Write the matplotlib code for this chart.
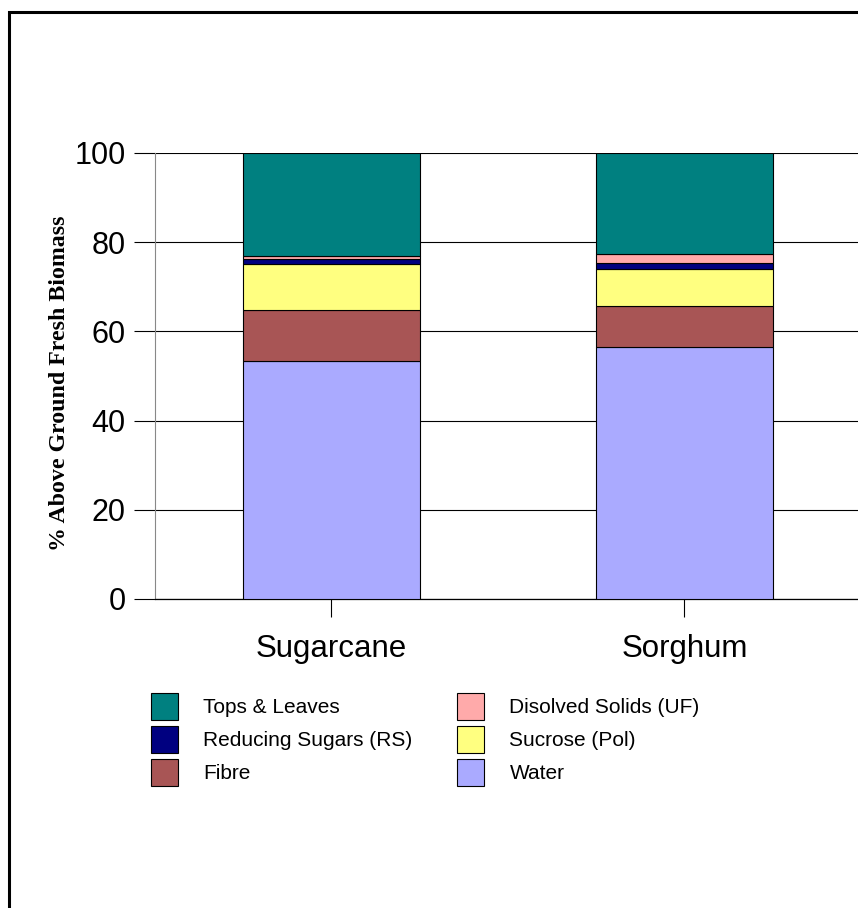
import numpy as np
import matplotlib.pyplot as plt
from matplotlib.patches import Rectangle

plt.rcParams['font.family'] = ['Liberation Sans', 'DejaVu Sans']

crops = ['Sugarcane', 'Sorghum']
# stacked from the bottom up
water = [53.3, 56.4]
fibre = [11.5, 9.3]
sucrose = [10.2, 8.3]
reducing = [1.2, 1.3]
dissolved = [0.8, 2.0]
tops = [23.0, 22.7]

names = ['Water', 'Fibre', 'Sucrose (Pol)', 'Reducing Sugars (RS)',
         'Disolved Solids (UF)', 'Tops & Leaves']
colors = ['#AAAAFF', '#A85555', '#FFFF80', '#000080', '#FFAAAA', '#008080']
yticks = [0, 20, 40, 60, 80, 100]

fig = plt.figure(figsize=(8.58, 9.08), dpi=100)
ax = fig.add_axes([155/858, 1 - 599/908, 703/858, 446/908])

x = np.arange(len(crops))
bottom = np.zeros(len(crops))
bars = {}
for name, vals, c in zip(names, [water, fibre, sucrose, reducing, dissolved, tops], colors):
    bars[name] = ax.bar(x, vals, 0.5, bottom=bottom, color=c, edgecolor='black',
                        linewidth=0.8, zorder=3)
    bottom += np.array(vals)

ax.set_xlim(-0.5, 1.492)
ax.set_ylim(0, 100)
ax.set_yticks(yticks)
ax.set_xticks(x)
ax.set_xticklabels(crops, fontsize=22.5)
ax.tick_params(axis='y', labelsize=22, length=15, width=0.8, pad=6)
ax.tick_params(axis='x', length=13, width=0.8, pad=12)
ax.yaxis.grid(True, color='black', linewidth=0.8, zorder=0)
ax.set_axisbelow(True)
for s in ['top', 'right']:
    ax.spines[s].set_visible(False)
ax.spines['left'].set_color('#888888')
ax.spines['bottom'].set_linewidth(0.9)

ax.set_ylabel('% Above Ground Fresh Biomass', family='Liberation Serif',
              fontweight='bold', fontsize=17.2)
ax.yaxis.set_label_coords(-0.121, 0.484)

order = ['Tops & Leaves', 'Reducing Sugars (RS)', 'Fibre',
         'Disolved Solids (UF)', 'Sucrose (Pol)', 'Water']
fig.legend([bars[n] for n in order], order, ncol=2, loc='upper left',
           bbox_to_anchor=(151/858, 1 - 693/908), frameon=False, fontsize=15,
           handlelength=1.3, handleheight=1.62, handletextpad=1.2,
           labelspacing=0.28, columnspacing=2.16, borderpad=0, borderaxespad=0)

# outer frame, cut off at right and bottom
fig.patches.append(Rectangle((9/858, -0.1), 1.2, 1 - 12/908 + 0.1,
                             transform=fig.transFigure, fill=False,
                             edgecolor='black', linewidth=2.2))

fig.savefig('out.png', dpi=100)
